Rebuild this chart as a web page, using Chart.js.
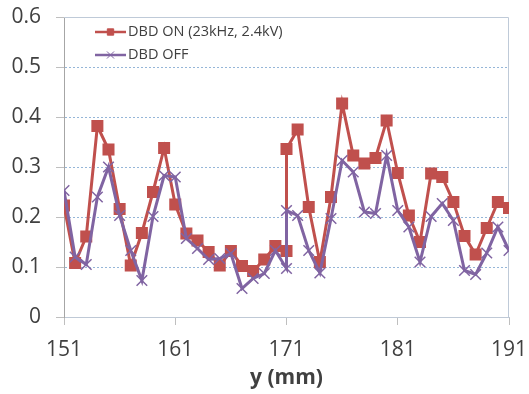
<!DOCTYPE html>
<html>
<head>
<meta charset="utf-8">
<script src="https://cdn.jsdelivr.net/npm/chart.js@4.4.1/dist/chart.umd.min.js"></script>
<style>
    html, body { margin: 0; padding: 0; background: #fff; }
    #wrap { width: 529px; height: 394px; }
</style>
</head>
<body>
<div id="wrap"><canvas id="chart"></canvas></div>
<script>
// y position (mm); 171 appears twice (two runs joined there)
const positions = [151, 152, 153, 154, 155, 156, 157, 158, 159, 160,
    161, 162, 163, 164, 165, 166, 167, 168, 169, 170,
    171, 171, 172, 173, 174, 175, 176, 177, 178, 179, 180,
    181, 182, 183, 184, 185, 186, 187, 188, 189, 190, 191];

const dbdOn = [0.223, 0.108, 0.161, 0.382, 0.335, 0.216, 0.103, 0.168, 0.250, 0.338,
    0.225, 0.167, 0.153, 0.130, 0.103, 0.132, 0.102, 0.092, 0.115, 0.142,
    0.132, 0.336, 0.375, 0.220, 0.110, 0.240, 0.427, 0.323, 0.307, 0.318, 0.393,
    0.288, 0.203, 0.150, 0.287, 0.280, 0.230, 0.162, 0.125, 0.178, 0.230, 0.218];

const dbdOff = [0.253, 0.120, 0.105, 0.240, 0.300, 0.203, 0.133, 0.073, 0.201, 0.283,
    0.280, 0.157, 0.137, 0.115, 0.117, 0.127, 0.057, 0.077, 0.087, 0.133,
    0.097, 0.213, 0.203, 0.133, 0.088, 0.197, 0.313, 0.290, 0.210, 0.207, 0.323,
    0.213, 0.180, 0.110, 0.201, 0.227, 0.193, 0.093, 0.085, 0.128, 0.180, 0.133];

const xTicks = [151, 161, 171, 181, 191];
const seriesNames = ['DBD ON (23kHz, 2.4kV)', 'DBD OFF'];

const RED = '#c0504d';
const PURPLE = '#8064a2';
const TEXT = '#404040';
const FONT = "'Open Sans', sans-serif";

const toPoints = (ys) => positions.map((x, i) => ({ x: x, y: ys[i] }));

// Frame on top and right of the plot area, like the spreadsheet original
const plotFrame = {
    id: 'plotFrame',
    beforeDatasetsDraw(chart) {
        const { ctx, chartArea: a } = chart;
        ctx.save();
        ctx.strokeStyle = '#bfcad8';
        ctx.lineWidth = 1;
        ctx.beginPath();
        ctx.moveTo(a.left, a.top + 0.5);
        ctx.lineTo(a.right - 0.5, a.top + 0.5);
        ctx.lineTo(a.right - 0.5, a.bottom);
        ctx.stroke();
        ctx.restore();
    }
};

// Legend drawn inside the plot, line + marker + label
const insideLegend = {
    id: 'insideLegend',
    afterDraw(chart) {
        const { ctx, chartArea: a } = chart;
        ctx.save();
        ctx.font = '14.5px ' + FONT;
        ctx.textBaseline = 'middle';
        chart.data.datasets.forEach((ds, i) => {
            const y = a.top + 15 + i * 23;
            const x0 = a.left + 31;
            const x1 = x0 + 31;
            ctx.strokeStyle = ds.borderColor;
            ctx.lineWidth = 2.5;
            ctx.beginPath();
            ctx.moveTo(x0, y);
            ctx.lineTo(x1, y);
            ctx.stroke();
            ctx.fillStyle = ds.pointBackgroundColor || ds.borderColor;
            ctx.lineWidth = 1;
            Chart.helpers.drawPoint(ctx, {
                pointStyle: ds.pointStyle,
                radius: ds.pointStyle === 'rect' ? 4.5 : 5,
                borderWidth: 1
            }, (x0 + x1) / 2, y);
            ctx.fillStyle = TEXT;
            ctx.fillText(seriesNames[i], x1 + 2, y);
        });
        ctx.restore();
    }
};

// drop the label overhang padding so layout.padding alone sets the plot box
const clearPad = (scale) => {
    scale.paddingTop = 0;
    scale.paddingBottom = 0;
    scale.paddingLeft = 0;
    scale.paddingRight = 0;
};

const ctx = document.getElementById('chart').getContext('2d');
new Chart(ctx, {
    type: 'line',
    data: {
        datasets: [
            {
                label: seriesNames[0],
                data: toPoints(dbdOn),
                borderColor: RED,
                backgroundColor: RED,
                borderWidth: 3,
                pointStyle: 'rect',
                pointRadius: 8.5,
                pointBorderWidth: 0,
                pointBackgroundColor: RED,
                pointBorderColor: RED,
                order: 1
            },
            {
                label: seriesNames[1],
                data: toPoints(dbdOff),
                borderColor: PURPLE,
                backgroundColor: PURPLE,
                borderWidth: 3,
                pointStyle: 'crossRot',
                pointRadius: 7.5,
                pointBorderWidth: 1.5,
                pointBorderColor: PURPLE,
                order: 0
            }
        ]
    },
    options: {
        responsive: true,
        maintainAspectRatio: false,
        animation: false,
        layout: { padding: { left: 11, top: 17, right: 20, bottom: 0 } },
        plugins: {
            legend: { display: false },
            tooltip: { enabled: false }
        },
        scales: {
            x: {
                type: 'linear',
                min: 151,
                max: 191,
                afterBuildTicks: (scale) => {
                    scale.ticks = xTicks.map(v => ({ value: v }));
                },
                afterFit: (scale) => {
                    clearPad(scale);
                    scale.height = 77;
                },
                ticks: {
                    color: TEXT,
                    font: { family: FONT, size: 21 },
                    padding: 12,
                    maxRotation: 0
                },
                grid: {
                    drawOnChartArea: false,
                    tickLength: 8,
                    tickColor: '#bfbfbf'
                },
                border: { color: '#bfc9d6', width: 1 },
                title: {
                    display: true,
                    text: 'y (mm)',
                    color: TEXT,
                    font: { family: FONT, size: 21, weight: 'bold' },
                    padding: { top: 3, bottom: 3 }
                }
            },
            y: {
                min: 0,
                max: 0.6,
                afterFit: (scale) => {
                    clearPad(scale);
                    scale.width = 53;
                },
                ticks: {
                    stepSize: 0.1,
                    color: TEXT,
                    font: { family: FONT, size: 21 },
                    padding: 15,
                    callback: (v) => v === 0 ? '0' : v.toFixed(1)
                },
                grid: {
                    color: (c) => (c.tick && (c.tick.value === 0 || c.tick.value >= 0.6)) ? 'rgba(0,0,0,0)' : '#95b6d8',
                    tickColor: '#bfbfbf',
                    tickLength: 8,
                    tickBorderDash: []
                },
                border: { color: '#a6a6a6', width: 1, dash: [2, 2] }
            }
        }
    },
    plugins: [plotFrame, insideLegend]
});
</script>
</body>
</html>
